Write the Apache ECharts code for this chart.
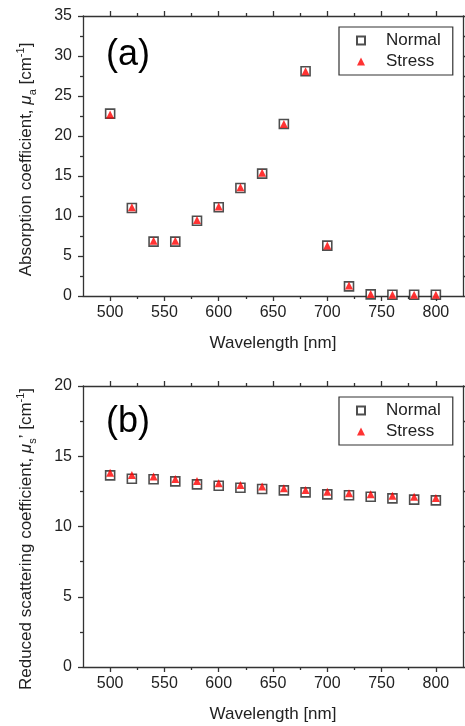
<!DOCTYPE html>
<html>
<head>
<meta charset="utf-8">
<title>Absorption / reduced scattering</title>
<style>
html, body { margin: 0; padding: 0; background: #fff; }
#main { width: 465px; height: 726px; }
</style>
</head>
<body>
<div id="main"></div>
<script src="https://cdn.jsdelivr.net/npm/echarts@6/dist/echarts.min.js"></script>
<script>
// data
var wavelengths = [500, 520, 540, 560, 580, 600, 620, 640, 660, 680, 700, 720, 740, 760, 780, 800];
var absNormal = [22.8, 11.0, 6.8, 6.8, 9.4, 11.1, 13.5, 15.3, 21.5, 28.1, 6.3, 1.2, 0.2, 0.15, 0.15, 0.15];
var absStress = [22.7, 11.1, 6.9, 6.9, 9.5, 11.2, 13.6, 15.4, 21.5, 28.1, 6.3, 1.3, 0.25, 0.15, 0.15, 0.15];
var scatNormal = [13.64, 13.40, 13.36, 13.21, 13.00, 12.90, 12.76, 12.67, 12.57, 12.43, 12.29, 12.22, 12.12, 12.00, 11.91, 11.86];
var scatStress = [13.83, 13.67, 13.55, 13.38, 13.24, 13.07, 12.95, 12.84, 12.72, 12.60, 12.48, 12.36, 12.29, 12.19, 12.12, 12.03];
var xMajorTicks = [500, 550, 600, 650, 700, 750, 800];
var xMinorTicks = [525, 575, 625, 675, 725, 775];

var FONT = 'Liberation Sans';
var INK = '#222';
var lineStyle = { color: '#333', width: 1.3 };

function pairs(ys) {
    return wavelengths.map(function (x, i) { return [x, ys[i]]; });
}

// four x axes per panel: bottom major/minor ticks, top major/minor ticks
function xAxes(grid) {
    var base = { gridIndex: grid, type: 'value', min: 475, max: 825, splitLine: { show: false } };
    return [
        Object.assign({}, base, {
            position: 'bottom',
            name: 'Wavelength [nm]', nameLocation: 'middle', nameGap: 39,
            nameTextStyle: { fontFamily: FONT, fontSize: 17, color: INK },
            axisLine: { show: true, onZero: false, lineStyle: lineStyle },
            axisTick: { show: true, customValues: xMajorTicks, length: 5, lineStyle: lineStyle },
            axisLabel: { customValues: xMajorTicks, margin: 9, fontFamily: FONT, fontSize: 16, color: INK }
        }),
        Object.assign({}, base, {
            position: 'bottom',
            axisLine: { show: false, onZero: false },
            axisTick: { show: true, customValues: xMinorTicks, length: 3, lineStyle: lineStyle },
            axisLabel: { show: false }
        }),
        Object.assign({}, base, {
            position: 'top',
            axisLine: { show: true, onZero: false, lineStyle: lineStyle },
            axisTick: { show: true, customValues: xMajorTicks, length: 5, lineStyle: lineStyle },
            axisLabel: { show: false }
        }),
        Object.assign({}, base, {
            position: 'top',
            axisLine: { show: false, onZero: false },
            axisTick: { show: true, customValues: xMinorTicks, length: 3, lineStyle: lineStyle },
            axisLabel: { show: false }
        })
    ];
}

var nameRich = {
    mu: { fontFamily: FONT, fontSize: 17, fontStyle: 'italic', color: INK },
    sub: { fontFamily: FONT, fontSize: 11, verticalAlign: 'bottom', lineHeight: 11, color: INK },
    sup: { fontFamily: FONT, fontSize: 11, verticalAlign: 'top', lineHeight: 10, color: INK }
};

// shift pushes the rotated name towards the bottom of the panel
function yAxes(grid, max, name, shift) {
    var base = {
        gridIndex: grid, type: 'value', min: 0, max: max, interval: 5,
        splitLine: { show: false },
        minorTick: { show: true, splitNumber: 2, length: 3, lineStyle: lineStyle },
        axisTick: { show: true, length: 5, lineStyle: lineStyle },
        axisLine: { show: true, onZero: false, lineStyle: lineStyle }
    };
    return [
        Object.assign({}, base, {
            position: 'left',
            name: name, nameLocation: 'middle', nameGap: 45,
            nameTextStyle: {
                fontFamily: FONT, fontSize: 17, lineHeight: 23, color: INK,
                padding: [0, shift, 0, 0], rich: nameRich
            },
            axisLabel: { margin: 11, fontFamily: FONT, fontSize: 16, color: INK }
        }),
        Object.assign({}, base, {
            position: 'right',
            axisLabel: { show: false }
        })
    ];
}

function legend(top) {
    return {
        orient: 'vertical', left: 339, top: top,
        data: ['Normal', 'Stress'],
        itemWidth: 8, itemHeight: 8, itemGap: 4,
        padding: [5, 12, 5, 17],
        borderColor: '#333', borderWidth: 1.2, borderRadius: 0,
        backgroundColor: '#fff',
        textStyle: { fontFamily: FONT, fontSize: 17, color: INK, padding: [0, 0, 0, 16] }
    };
}

function seriesPair(xi, yi, normal, stress) {
    return [
        {
            name: 'Normal', type: 'scatter', xAxisIndex: xi, yAxisIndex: yi,
            symbol: 'rect', symbolSize: 9,
            itemStyle: { color: '#fff', borderColor: '#222', borderWidth: 1.6 },
            data: pairs(normal)
        },
        {
            name: 'Stress', type: 'scatter', xAxisIndex: xi, yAxisIndex: yi,
            symbol: 'triangle', symbolSize: 8,
            itemStyle: { color: '#ff0000' },
            data: pairs(stress)
        }
    ];
}

var chart = echarts.init(document.getElementById('main'), null, { renderer: 'canvas' });
var option = {
    animation: false,
    backgroundColor: '#fff',
    grid: [
        { left: 83, top: 16, width: 380, height: 280, outerBoundsMode: 'none' },
        { left: 83, top: 386, width: 380, height: 281, outerBoundsMode: 'none' }
    ],
    xAxis: xAxes(0).concat(xAxes(1)),
    yAxis: yAxes(0, 35, 'Absorption coefficient, {mu|μ}{sub|a} [cm{sup|-1}]', 7)
        .concat(yAxes(1, 20, 'Reduced scattering coefficient, {mu|μ}{sub|s}’ [cm{sup|-1}]', 25)),
    legend: [legend(27), legend(397)],
    graphic: [
        { type: 'text', left: 106, top: 37, style: { text: '(a)', font: '36px "Liberation Sans"', fill: '#000' } },
        { type: 'text', left: 106, top: 404, style: { text: '(b)', font: '36px "Liberation Sans"', fill: '#000' } }
    ],
    series: seriesPair(0, 0, absNormal, absStress).concat(seriesPair(4, 2, scatNormal, scatStress))
};
chart.setOption(option);
</script>
</body>
</html>
